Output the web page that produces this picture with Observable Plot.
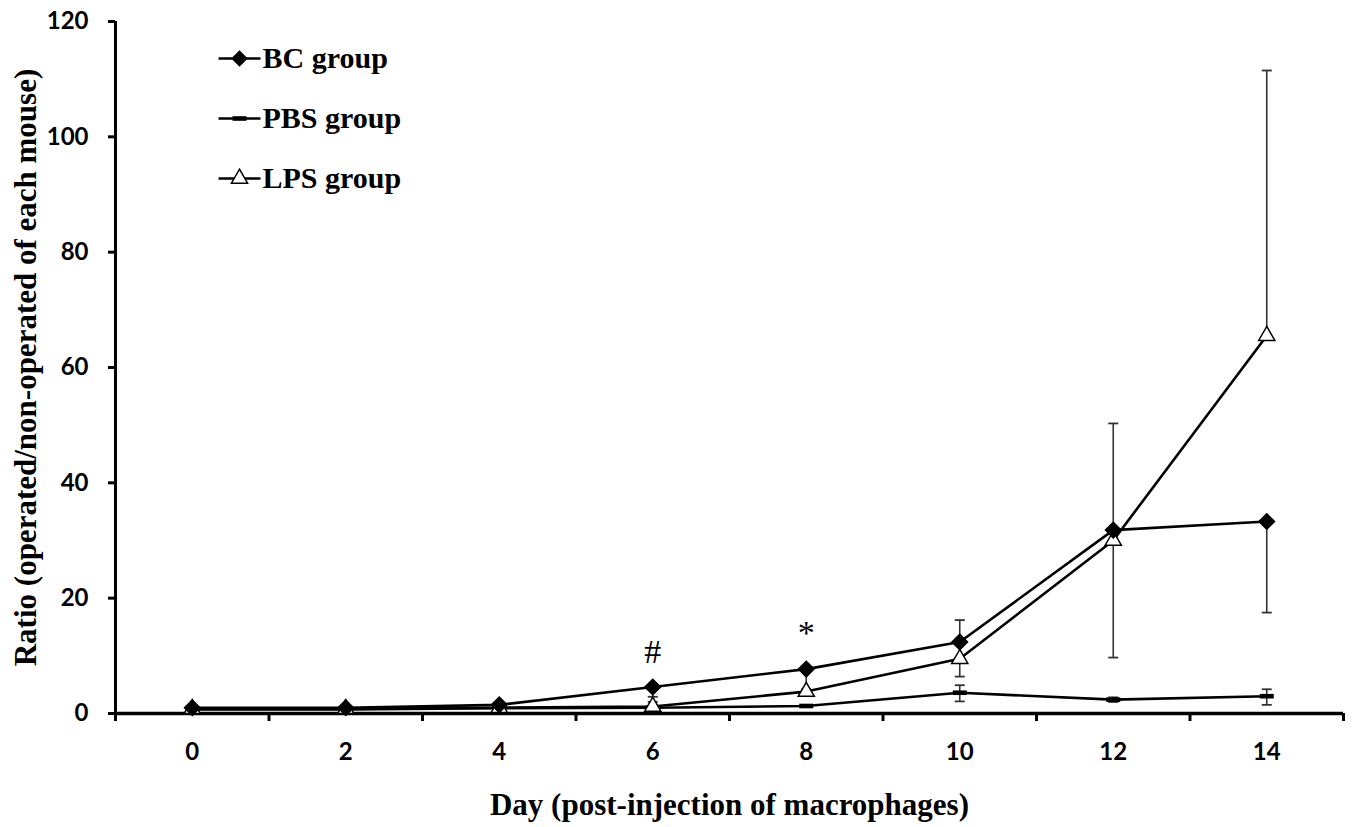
<!DOCTYPE html>
<html><head><meta charset="utf-8">
<script src="https://cdn.jsdelivr.net/npm/d3@7"></script>
<script src="https://cdn.jsdelivr.net/npm/@observablehq/plot@0.6"></script>
<style>
body{margin:0;background:#fff}
#chart svg{display:block}
</style></head>
<body><div id="chart"></div>
<script>
// ---- data ----
const days = [0, 2, 4, 6, 8, 10, 12, 14];
const seriesNames = ["BC group", "PBS group", "LPS group"];
const bcValues  = [1.0, 1.0, 1.5, 4.6, 7.7, 12.4, 31.8, 33.3];
const pbsValues = [0.7, 0.7, 0.9, 1.0, 1.3, 3.6, 2.4, 3.0];
const lpsValues = [0.8, 0.8, 1.0, 1.2, 3.8, 9.5, 30.0, 65.5];
// error bar ends (absolute values), null = not drawn
const bcLow   = [null, null, null, 2.9, 4.2, 8.8, null, 17.5];
const bcHigh  = [null, null, null, null, null, 16.2, null, null];
const pbsLow  = [null, null, null, null, null, 2.1, 2.0, 1.5];
const pbsHigh = [null, null, null, null, null, 4.9, 2.8, 4.2];
const lpsLow  = [null, null, null, 0.4, null, 6.4, 9.7, null];
const lpsHigh = [null, null, null, 2.0, null, 12.4, 50.3, 111.5];
const annotDays = [6, 8];
const annotLabels = ["#", "*"];
const annotValues = [10.6, 14.0];
const yTicks = [0, 20, 40, 60, 80, 100, 120];
const xTickMarks = [-1, 1, 3, 5, 7, 9, 11, 13, 15];
const xTitle = "Day (post-injection of macrophages)";
const yTitle = "Ratio (operated/non-operated of each mouse)";

// ---- tables ----
const valuesBy = {"BC group": bcValues, "PBS group": pbsValues, "LPS group": lpsValues};
const lowBy = {"BC group": bcLow, "PBS group": pbsLow, "LPS group": lpsLow};
const highBy = {"BC group": bcHigh, "PBS group": pbsHigh, "LPS group": lpsHigh};
const rows = seriesNames.flatMap(s => days.map((d, i) => ({series: s, day: d, value: valuesBy[s][i]})));
const errs = [];
seriesNames.forEach(s => days.forEach((d, i) => {
  const v = valuesBy[s][i];
  if (lowBy[s][i] != null) errs.push({series: s, day: d, from: v, to: lowBy[s][i]});
  if (highBy[s][i] != null) errs.push({series: s, day: d, from: v, to: highBy[s][i]});
}));
const annots = annotDays.map((d, i) => ({day: d, label: annotLabels[i], value: annotValues[i]}));

// ---- symbols ----
const hline = {draw(ctx, size) { const r = Math.sqrt(size / Math.PI); ctx.moveTo(-r, 0); ctx.lineTo(r, 0); }};
const dash = {draw(ctx, size) { const r = Math.sqrt(size / Math.PI); ctx.rect(-r, -r * 0.33, 2 * r, r * 0.66); }};

const serif = "'Liberation Serif', 'Times New Roman', serif";
const sans = "Lato, 'Open Sans', sans-serif";

const legendMarks = [];
seriesNames.forEach((s, i) => {
  const dy = 37 + i * 60;
  legendMarks.push(Plot.dot([s], {frameAnchor: "top-left", dx: 124, dy, symbol: hline, r: 21, stroke: "black", strokeWidth: 2.5, fill: "none"}));
  if (s === "BC group") legendMarks.push(Plot.dot([s], {frameAnchor: "top-left", dx: 124, dy, symbol: "diamond2", r: 6.5, fill: "black", stroke: "black"}));
  if (s === "PBS group") legendMarks.push(Plot.dot([s], {frameAnchor: "top-left", dx: 124, dy, symbol: dash, r: 7, fill: "black", stroke: "none"}));
  if (s === "LPS group") legendMarks.push(Plot.dot([s], {frameAnchor: "top-left", dx: 124, dy, symbol: "triangle", r: 6, fill: "white", stroke: "black", strokeWidth: 1.5}));
  legendMarks.push(Plot.text([s], {frameAnchor: "top-left", dx: 147, dy, textAnchor: "start", lineAnchor: "middle", fontSize: 30, fontWeight: "bold", fontFamily: serif, fill: "black"}));
});

const chart = Plot.plot({
  width: 1355, height: 827,
  marginLeft: 115, marginRight: 12, marginTop: 21, marginBottom: 114,
  x: {domain: [-1, 15]},
  y: {domain: [0, 120]},
  style: {background: "white", color: "black"},
  marks: [
    Plot.axisY({ticks: yTicks, tickSize: 7, tickPadding: 20, strokeWidth: 3, fontSize: 24, fontWeight: "bold", fontFamily: sans, label: null}),
    Plot.axisX({ticks: xTickMarks, tickSize: 8, strokeWidth: 3, tickFormat: () => "", label: null}),
    Plot.axisX({ticks: days, tickSize: 0, tickPadding: 29, fontSize: 24, fontWeight: "bold", fontFamily: sans, label: null}),
    Plot.ruleX([-1], {stroke: "black", strokeWidth: 3}),
    Plot.ruleY([0], {stroke: "black", strokeWidth: 3.5}),
    // error bars
    Plot.ruleX(errs, {x: "day", y1: "from", y2: "to", stroke: "#333", strokeWidth: 1.6}),
    Plot.dot(errs, {x: "day", y: "to", symbol: hline, r: 5, stroke: "#333", strokeWidth: 1.8, fill: "none"}),
    // lines
    Plot.line(rows, {x: "day", y: "value", z: "series", stroke: "black", strokeWidth: 2.6}),
    // markers
    Plot.dot(rows.filter(d => d.series === "PBS group"), {x: "day", y: "value", symbol: dash, r: 7, fill: "black", stroke: "none"}),
    Plot.dot(rows.filter(d => d.series === "LPS group"), {x: "day", y: "value", symbol: "triangle", r: 6, fill: "white", stroke: "black", strokeWidth: 1.5}),
    Plot.dot(rows.filter(d => d.series === "BC group"), {x: "day", y: "value", symbol: "diamond2", r: 7, fill: "black", stroke: "black"}),
    // annotations
    Plot.text(annots, {x: "day", y: "value", text: "label", fontSize: 34, fontFamily: serif, fill: "black"}),
    // titles
    Plot.text([yTitle], {frameAnchor: "left", dx: -89, rotate: -90, textAnchor: "middle", lineAnchor: "middle", fontSize: 31, fontWeight: "bold", fontFamily: serif, fill: "black"}),
    Plot.text([xTitle], {frameAnchor: "bottom", dy: 92, textAnchor: "middle", lineAnchor: "middle", fontSize: 31, fontWeight: "bold", fontFamily: serif, fill: "black"}),
    ...legendMarks
  ]
});
document.getElementById("chart").appendChild(chart);
</script>
</body></html>
